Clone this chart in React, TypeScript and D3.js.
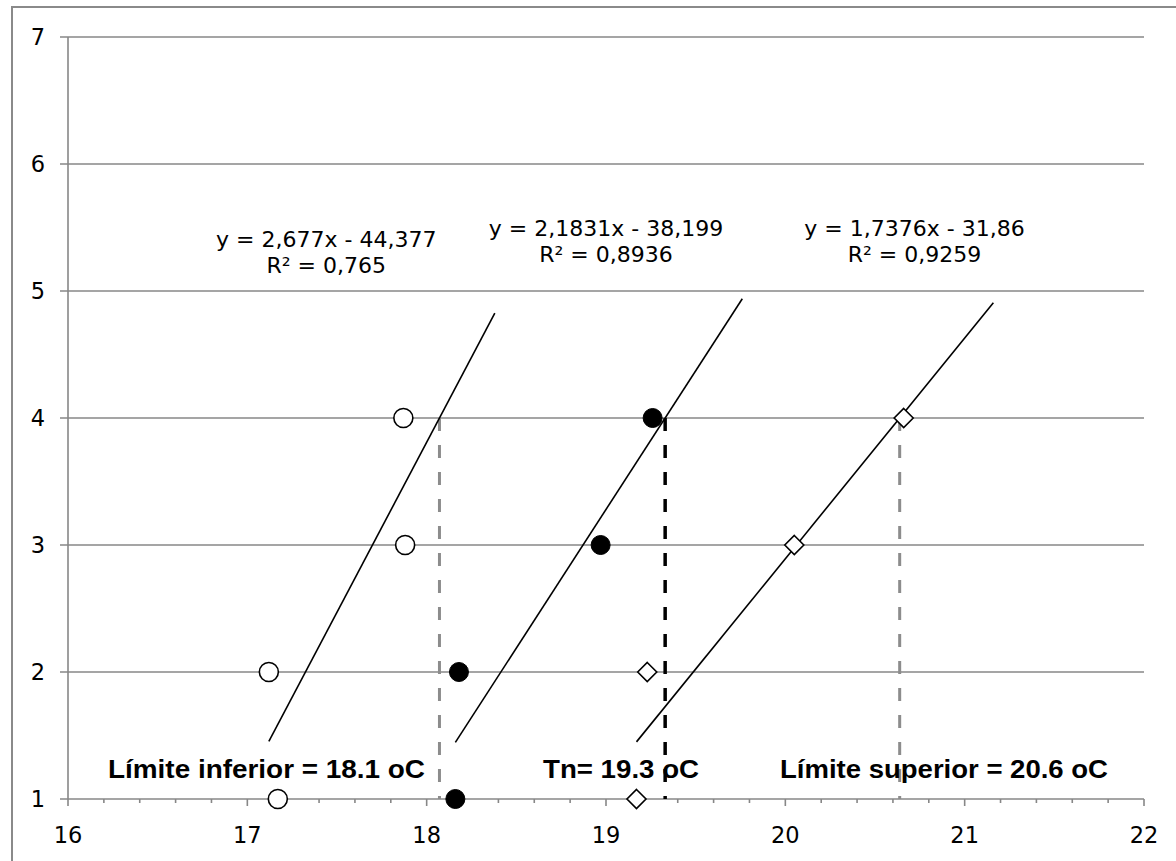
import React from "react";
import * as d3 from "d3";

// ---- data ----
const levels = [1, 2, 3, 4];
const seriesOpenX = [17.17, 17.12, 17.88, 17.87];
const seriesFilledX = [18.16, 18.18, 18.97, 19.26];
const seriesDiamondX = [19.17, 19.23, 20.05, 20.66];

const slopes = [2.677, 2.1831, 1.7376];
const intercepts = [-44.377, -38.199, -31.86];
const eqLabels = ["y = 2,677x - 44,377", "y = 2,1831x - 38,199", "y = 1,7376x - 31,86"];
const r2Labels = ["R² = 0,765", "R² = 0,8936", "R² = 0,9259"];
const refLabels = ["Límite inferior = 18.1 oC", "Tn= 19.3 oC", "Límite superior = 20.6 oC"];
const refLevel = 4;
const forecastForward = 0.5;

const xTicks = [16, 17, 18, 19, 20, 21, 22];
const yTicks = [1, 2, 3, 4, 5, 6, 7];

// ---- layout ----
const W = 1176;
const H = 861;
const X0 = 68, X1 = 1144, Y0 = 799, Y1 = 37;
const eqPos = [
  { x: 17.44, y: 5.35 },
  { x: 19.0, y: 5.43 },
  { x: 20.72, y: 5.43 },
];
const refTextPos = [
  { x: 108, w: 317 },
  { x: 543, w: 156 },
  { x: 780, w: 328 },
];

export default function App() {
  const x = d3.scaleLinear().domain([16, 22]).range([X0, X1]);
  const y = d3.scaleLinear().domain([1, 7]).range([Y0, Y1]);
  const grid = "#878787";
  const seriesX = [seriesOpenX, seriesFilledX, seriesDiamondX];
  const minorTicks = d3.range(16, 22.0001, 0.2);
  const line = d3.line<[number, number]>().x((d) => x(d[0])).y((d) => y(d[1]));

  const refX = slopes.map((m, i) => (refLevel - intercepts[i]) / m);
  const refColors = ["#8c8c8c", "#000000", "#8c8c8c"];

  const lightFont = "'DejaVu Sans', Verdana, sans-serif";
  const boldFont = "'Liberation Sans', Arial, sans-serif";

  return (
    <svg width={W} height={H} style={{ position: "absolute", left: 0, top: 0, background: "#fff" }}>
      <rect x={12} y={7} width={W + 20} height={H + 20} fill="#fff" stroke="#8a8a8a" strokeWidth={2} />
      {/* gridlines */}
      {yTicks.map((t) => (
        <line key={"g" + t} x1={X0 - 8} x2={X1} y1={y(t)} y2={y(t)} stroke={grid} strokeWidth={1.6} />
      ))}
      {/* y axis */}
      <line x1={X0} x2={X0} y1={Y1} y2={Y0} stroke={grid} strokeWidth={1.6} />
      {/* x minor/major ticks */}
      {minorTicks.map((t, i) => (
        <line key={"mt" + i} x1={x(t)} x2={x(t)} y1={Y0} y2={Y0 + (i % 5 === 0 ? 7 : 4)} stroke={grid} strokeWidth={1.6} />
      ))}
      {yTicks.map((t) => (
        <text key={"yl" + t} x={45} y={y(t)} dy="0.36em" textAnchor="end" fontFamily={lightFont} fontSize={22.5} fill="#000">
          {t}
        </text>
      ))}
      {xTicks.map((t) => (
        <text key={"xl" + t} x={x(t)} y={843} textAnchor="middle" fontFamily={lightFont} fontSize={22.5} fill="#000">
          {t}
        </text>
      ))}
      {/* reference dashed lines */}
      {refX.map((rx, i) => (
        <line key={"ref" + i} x1={x(rx)} x2={x(rx)} y1={y(refLevel)} y2={y(1)} stroke={refColors[i]}
          strokeWidth={i === 1 ? 3.5 : 3} strokeDasharray="13,14" />
      ))}
      {/* trendlines */}
      {slopes.map((m, i) => {
        const xs = seriesX[i];
        const a = d3.min(xs) as number;
        const b = (d3.max(xs) as number) + forecastForward;
        return (
          <path key={"tr" + i} d={line([[a, m * a + intercepts[i]], [b, m * b + intercepts[i]]]) || ""}
            fill="none" stroke="#000" strokeWidth={1.6} />
        );
      })}
      {/* markers */}
      {seriesOpenX.map((v, i) => (
        <circle key={"o" + i} cx={x(v)} cy={y(levels[i])} r={9.5} fill="#fff" stroke="#000" strokeWidth={1.6} />
      ))}
      {seriesFilledX.map((v, i) => (
        <circle key={"f" + i} cx={x(v)} cy={y(levels[i])} r={9.5} fill="#000" stroke="#000" strokeWidth={1} />
      ))}
      {seriesDiamondX.map((v, i) => {
        const cx = x(v), cy = y(levels[i]), s = 9.5;
        return (
          <path key={"d" + i} d={`M${cx},${cy - s}L${cx + s},${cy}L${cx},${cy + s}L${cx - s},${cy}Z`}
            fill="#fff" stroke="#000" strokeWidth={1.6} />
        );
      })}
      {/* equation labels */}
      {eqLabels.map((t, i) => (
        <g key={"eq" + i} fontFamily={lightFont} fontSize={22} fill="#000" textAnchor="middle">
          <text x={x(eqPos[i].x)} y={y(eqPos[i].y)}>{t}</text>
          <text x={x(eqPos[i].x)} y={y(eqPos[i].y) + 26}>{r2Labels[i]}</text>
        </g>
      ))}
      {/* reference labels */}
      {refLabels.map((t, i) => (
        <text key={"rl" + i} x={refTextPos[i].x} y={778} fontFamily={boldFont} fontWeight="bold" fontSize={25}
          textLength={refTextPos[i].w} lengthAdjust="spacingAndGlyphs" fill="#000">
          {t}
        </text>
      ))}
    </svg>
  );
}
